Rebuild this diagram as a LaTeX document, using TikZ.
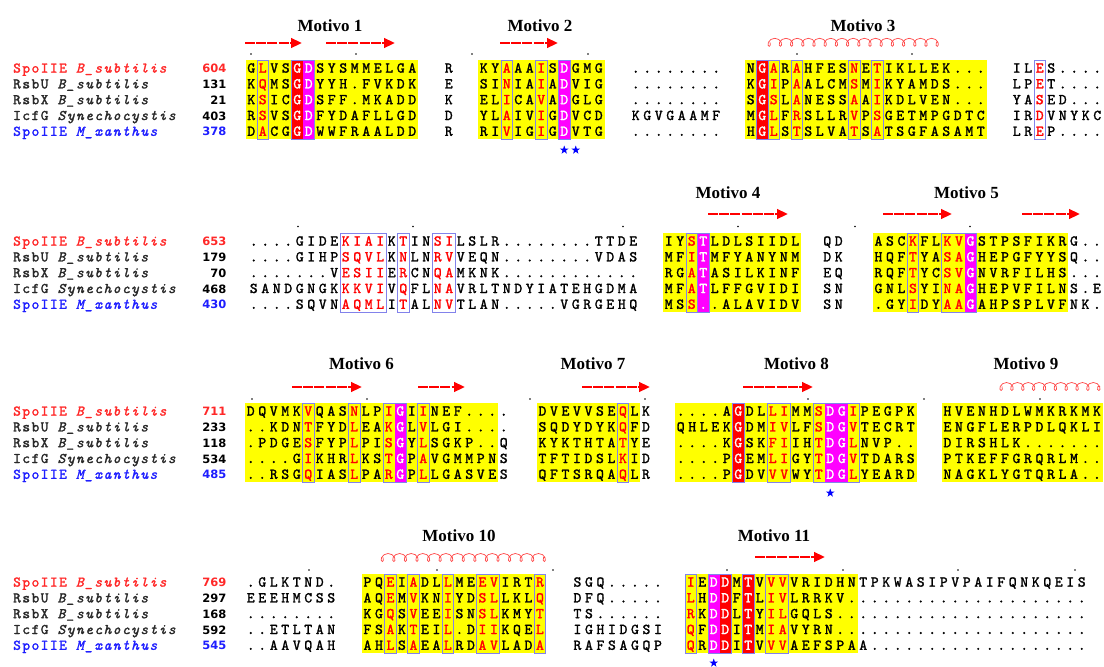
\documentclass[tikz,border=0pt]{standalone}
\usepackage{fontspec}
\setmainfont{Liberation Serif}
\newfontfamily\seqfont{lmmono10-regular.otf}[FakeBold=1.6]
\newfontfamily\namefont{lmmono10-regular.otf}[ItalicFont=lmmono10-italic.otf,LetterSpace=10,FakeBold=1.6]
\newfontfamily\numfont{DejaVu Sans}
\usetikzlibrary{arrows.meta,shapes.geometric,decorations.pathmorphing}
\definecolor{seqred}{RGB}{255,0,0}
\definecolor{seqyel}{RGB}{255,255,0}
\definecolor{seqmag}{RGB}{255,0,255}
\definecolor{framebl}{RGB}{130,130,235}
\definecolor{namered}{RGB}{255,40,40}
\definecolor{nameblue}{RGB}{30,30,255}
\definecolor{namegray}{RGB}{40,40,40}
\definecolor{helred}{RGB}{255,70,70}
\def\pp{11.5}
\def\rs{15.8}
\def\bdrop{4.6}
\tikzset{
  seqch/.style={font=\seqfont\fontsize{15}{15}\selectfont, anchor=base, inner sep=0},
  nm/.style={font=\namefont\fontsize{14.7}{15}\selectfont, anchor=base west, inner sep=0},
  num/.style={font=\numfont\bfseries\fontsize{11.5}{12}\selectfont, anchor=base east, inner sep=0},
  motif/.style={font=\bfseries\fontsize{17}{17}\selectfont, anchor=base, inner sep=0},
  strandline/.style={draw=seqred, line width=2.6, dash pattern=on 10pt off 1.2pt, -{Triangle[length=11pt,width=9.5pt]}},
  helixline/.style={draw=helred, line width=0.7, decorate, decoration={coil, aspect=0.9, segment length=#1, amplitude=-4pt}},
  starmark/.style={star, star points=5, star point ratio=2.5, fill=blue, draw=none, minimum size=9pt, inner sep=0},
  framebox/.style={draw=framebl, line width=0.8}
}
\ExplSyntaxOn
\int_new:N \l__al_col_int
\tl_new:N \l__al_code_tl
\tl_new:N \l__al_color_tl
\cs_new_protected:Npn \__al_row:nnnn #1#2#3#4
  {
    \int_zero:N \l__al_col_int
    \tl_map_inline:nn {#4}
      {
        \int_incr:N \l__al_col_int
        \tl_set:Nx \l__al_code_tl { \tl_item:nn {#3} { \l__al_col_int } }
        \str_if_eq:VnTF \l__al_code_tl {r}
          { \tl_set:Nn \l__al_color_tl {seqred} }
          {
            \str_if_eq:VnTF \l__al_code_tl {w}
              { \tl_set:Nn \l__al_color_tl {white} }
              { \tl_set:Nn \l__al_color_tl {black} }
          }
        \node [seqch, text=\l__al_color_tl] at ( { #1 + ( \int_use:N \l__al_col_int - 0.5 ) * \pp } , { #2 + \bdrop } ) {##1};
      }
  }
\NewDocumentCommand \seqblock { m m m m m m m m }
  {
    \__al_row:nnnn {#1} {#2} {#3} {#4}
    \__al_row:nnnn {#1} {#2 + \rs} {#3} {#5}
    \__al_row:nnnn {#1} {#2 + 2*\rs} {#3} {#6}
    \__al_row:nnnn {#1} {#2 + 3*\rs} {#3} {#7}
    \__al_row:nnnn {#1} {#2 + 4*\rs} {#3} {#8}
  }
\ExplSyntaxOff
\newcommand\ybg[4]{\fill[seqyel] ({#1+(#3-1)*\pp},{#2-8}) rectangle ({#1+#4*\pp},{#2+4*\rs+8});}
\newcommand\cbg[5]{\fill[#5] ({#1+(#3-1)*\pp},{#2-8}) rectangle ({#1+#4*\pp},{#2+4*\rs+8});}
\newcommand\frm[4]{\draw[framebox] ({#1+(#3-1)*\pp},{#2-8}) rectangle ({#1+#4*\pp},{#2+4*\rs+8});}
\newcommand\strand[3]{\draw[strandline] (#1,#3) -- (#2,#3);}
\newcommand\helix[4]{\draw[helixline=#4] (#1,#3) -- (#2,#3);}
\newcommand\dotmark[2]{\fill (#1,#2) circle (0.9);}
\newcommand\namecol[6]{%
  \node[nm, text=namered] at (13,{#1+\bdrop}) {SpoIIE {\itshape B\_subtilis}};
  \node[nm, text=namegray] at (13,{#1+\rs+\bdrop}) {RsbU {\itshape B\_subtilis}};
  \node[nm, text=namegray] at (13,{#1+2*\rs+\bdrop}) {RsbX {\itshape B\_subtilis}};
  \node[nm, text=namegray] at (13,{#1+3*\rs+\bdrop}) {IcfG {\itshape Synechocystis}};
  \node[nm, text=nameblue] at (13,{#1+4*\rs+\bdrop}) {SpoIIE {\itshape M\_xanthus}};
  \node[num, text=namered] at (226.5,{#1+\bdrop}) {#2};
  \node[num, text=black] at (226.5,{#1+\rs+\bdrop}) {#3};
  \node[num, text=black] at (226.5,{#1+2*\rs+\bdrop}) {#4};
  \node[num, text=black] at (226.5,{#1+3*\rs+\bdrop}) {#5};
  \node[num, text=nameblue] at (226.5,{#1+4*\rs+\bdrop}) {#6};
}
\begin{document}
\begin{tikzpicture}[x=1pt,y=-1pt]
\fill[white] (0,0) rectangle (1104,667);
\useasboundingbox (0,0) rectangle (1104,667);
% ================= Block 1 =================
\node[motif] (m1) at (330,31) {Motivo 1};
\node[motif] (m2) at (540,31) {Motivo 2};
\node[motif] (m3) at (863,31) {Motivo 3};
\strand{245}{302}{43}\strand{326}{395}{43}\strand{500}{558}{43}
\helix{770}{938}{42.3}{11.2pt}
\foreach \x in {251,356,472,588,797,912} {\dotmark{\x}{54}}
\namecol{68}{604}{131}{21}{403}{378}
\ybg{245.5}{68}{1}{15}
\cbg{245.5}{68}{5}{5}{seqred}\cbg{245.5}{68}{6}{6}{seqmag}
\frm{245.5}{68}{2}{2}\frm{245.5}{68}{5}{6}
\seqblock{245.5}{68}{krkkwwkkkkkkkkk}{GLVSGDSYSMMELGA}{KQMSGDYYH.FVKDK}{KSICGDSFF.MKADD}{RSVSGDFYDAFLLGD}{DACGGDWWFRAALDD}
\seqblock{443}{68}{k}{R}{E}{K}{D}{R}
\ybg{478}{68}{1}{11}
\cbg{478}{68}{8}{8}{seqmag}
\frm{478}{68}{3}{3}\frm{478}{68}{6}{6}\frm{478}{68}{8}{8}
\seqblock{478}{68}{kkrkkrkwkkk}{KYAAAISDGMG}{SINIAIADVIG}{ELICAVADGLG}{YLAIVIGDVCD}{RIVIGIGDVTG}
\seqblock{630}{68}{}{........}{........}{........}{KGVGAAMF}{........}
\ybg{745}{68}{1}{21}
\cbg{745}{68}{2}{2}{seqred}
\frm{745}{68}{2}{2}\frm{745}{68}{3}{3}\frm{745}{68}{5}{5}\frm{745}{68}{10}{10}\frm{745}{68}{12}{12}
\seqblock{745}{68}{kwrkrkkkkrkrkkkkkkkkk}{NGARAHFESNETIKLLEK...}{KGIPAALCMSMIKYAMDS...}{SGSLANESSAAIKDLVEN...}{MGLFRSLLRVPSGETMPGDTC}{HGLSTSLVATSATSGFASAMT}
\frm{1011}{68}{3}{3}
\seqblock{1011}{68}{kkr}{ILES....}{LPET....}{YASED...}{IRDVNYKC}{LREP....}
\node[starmark] (s1) at (564.25,150) {};
\node[starmark] (s2) at (575.75,150) {};
% ================= Block 2 =================
\node[motif] (m4) at (728,198.5) {Motivo 4};
\node[motif] (m5) at (966.5,198.5) {Motivo 5};
\strand{708}{788}{214}\strand{883}{952}{214}\strand{1022}{1080}{214}
\foreach \x in {298,413,623,738,855,970} {\dotmark{\x}{226.5}}
\namecol{241}{653}{179}{70}{468}{430}
\frm{248}{241}{9}{12}\frm{248}{241}{14}{14}\frm{248}{241}{17}{18}
\seqblock{248}{241}{kkkkkkkkrrrrkrkkrr}{....GIDEKIAIKTINSILSLR........TTDE}{....GIHPSQVLKNLNRVVEQN........VDAS}{.......VESIIERCNQAMKNK............}{SANDGNGKKKVIVQFLNAVRLTNDYIATEHGDMA}{....SQVNAQMLITALNVTLAN.....VGRGEHQ}
\ybg{663}{241}{1}{12}
\cbg{663}{241}{4}{4}{seqmag}
\frm{663}{241}{3}{3}\frm{663}{241}{4}{4}
\seqblock{663}{241}{kkrw}{IYSTLDLSIIDL}{MFITMFYANYNM}{RGATASILKINF}{MFATLFFGVIDI}{MSS..ALAVIDV}
\seqblock{821.5}{241}{}{QD}{DK}{EQ}{SN}{SN}
\ybg{872.7}{241}{1}{17}
\cbg{872.7}{241}{9}{9}{seqmag}
\frm{872.7}{241}{4}{4}\frm{872.7}{241}{7}{9}
\seqblock{872.7}{241}{kkkrkkrrw}{ASCKFLKVGSTPSFIKRG..}{HQFTYASAGHEPGFYYSQ..}{RQFTYCSVGNVRFILHS...}{GNLSYINAGHEPVFILNS.E}{.GYIDYAAGAHPSPLVFNK.}
% ================= Block 3 =================
\node[motif] (m6) at (361.5,369) {Motivo 6};
\node[motif] (m7) at (593,369) {Motivo 7};
\node[motif] (m8) at (796.5,369) {Motivo 8};
\node[motif] (m9) at (1026,369) {Motivo 9};
\strand{292}{362}{387}\strand{418}{465}{387}\strand{582}{650}{387}\strand{743}{813}{387}
\helix{1002}{1100}{386.5}{10.85pt}
\foreach \x in {252,367,530,645,808,924,1040} {\dotmark{\x}{399}}
\namecol{411}{711}{233}{118}{534}{485}
\ybg{245}{411}{1}{22}
\cbg{245}{411}{14}{14}{seqmag}
\frm{245}{411}{6}{6}\frm{245}{411}{10}{10}\frm{245}{411}{13}{14}\frm{245}{411}{16}{16}
\seqblock{245}{411}{kkkkkrkkkrkkrwkr}{DQVMKVQASNLPIGIINEF....}{..KDNTFYDLEAKGLVLGI....}{.PDGESFYPLPISGYLSGKP..Q}{....GIKHRLKSTGPAVGMMPNS}{..RSGQIASLPARGPLLGASVES}
\ybg{536.7}{411}{1}{9}
\frm{536.7}{411}{8}{8}
\seqblock{536.7}{411}{kkkkkkkr}{DVEVVSEQLK}{SQDYDYKQFD}{KYKTHTATYE}{TFTIDSLKID}{QFTSRQAQLR}
\ybg{675}{411}{1}{21}
\cbg{675}{411}{6}{6}{seqred}
\cbg{675}{411}{14}{15}{seqmag}
\frm{675}{411}{6}{6}\frm{675}{411}{9}{10}\frm{675}{411}{13}{16}
\seqblock{675}{411}{kkkkkwkkrrkkrwwr}{....AGDLLIMMSDGIPEGPK}{QHLEKGDMIVLFSDGVTECRT}{....KGSKFIIHTDGLNVP..}{....PGEMLIGYTDGVTDARS}{....PGDVVVWYTDGLYEARD}
\ybg{941.7}{411}{1}{14}
\seqblock{941.7}{411}{}{HVENHDLWMKRKMK}{ENGFLERPDLQKLI}{DIRSHLK.......}{PTKEFFGRQRLM..}{NAGKLYGTQRLA..}
\node[starmark] (s3) at (830.25,493) {};
% ================= Block 4 =================
\node[motif] (m10) at (459,541.5) {Motivo 10};
\node[motif] (m11) at (774,541.5) {Motivo 11};
\helix{383}{545}{557.5}{11.571pt}
\strand{755}{825}{557}
\foreach \x in {309,437,553,727,843,958,1075} {\dotmark{\x}{570}}
\namecol{582}{769}{297}{168}{592}{545}
\seqblock{245}{582}{}{.GLKTND.}{EEEHMCSS}{........}{..ETLTAN}{..AAVQAH}
\ybg{361.7}{582}{1}{16}
\frm{361.7}{582}{3}{3}\frm{361.7}{582}{5}{5}\frm{361.7}{582}{8}{8}\frm{361.7}{582}{11}{12}\frm{361.7}{582}{16}{16}
\seqblock{361.7}{582}{kkrkrkkrkkrrkkkr}{PQEIADLLMEEVIRTR}{AQEMVKNIYDSLLKLQ}{KGQSVEEISNSLKMYT}{FSAKTEIL.DIIKQEL}{AHLSAEALRDAVLADA}
\seqblock{571.7}{582}{}{SGQ.....}{DFQ.....}{TS......}{IGHIDGSI}{RAFSAGQP}
\ybg{685}{582}{1}{15}
\cbg{685}{582}{3}{3}{seqmag}\cbg{685}{582}{4}{4}{seqred}\cbg{685}{582}{6}{6}{seqred}
\frm{685}{582}{1}{1}\frm{685}{582}{3}{4}\frm{685}{582}{6}{6}\frm{685}{582}{8}{9}
\seqblock{685}{582}{rkwwkwkrr}{IEDDMTVVVVRIDHNTPKWASIPVPAIFQNKQEIS}{LHDDFTLIVLRRKV.....................}{RKDDLTYILGQLS......................}{QFDDITMIAVYRN......................}{QRDDITVVVAEFSPAA...................}
\node[starmark] (s4) at (713.75,663) {};
\end{tikzpicture}
\end{document}
